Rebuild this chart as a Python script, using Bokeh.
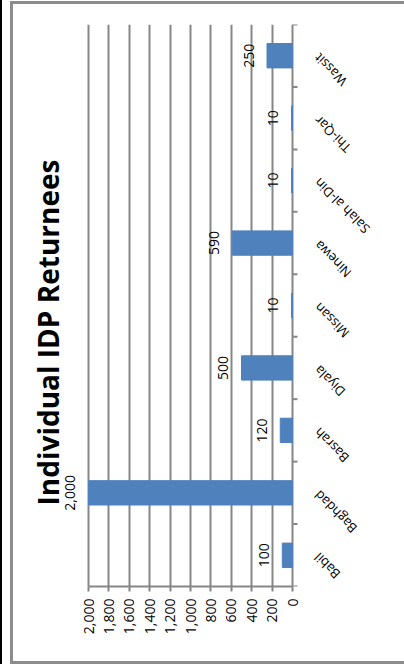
import math
from bokeh.plotting import figure
from bokeh.core.properties import value
from bokeh.models import (ColumnDataSource, LabelSet, Label, LinearAxis, Range1d,
                          FixedTicker, NumeralTickFormatter, Grid)
from bokeh.embed import file_html
from bokeh.resources import INLINE

categories = ["Babil", "Baghdad", "Basrah", "Diyala", "Missan", "Ninewa",
              "Salah al-Din", "Thi-Qar", "Wassit"]
returnees = [100, 2000, 120, 500, 10, 590, 10, 10, 250]
value_labels = ["{:,}".format(v) for v in returnees]
value_ticks = [0, 200, 400, 600, 800, 1000, 1200, 1400, 1600, 1800, 2000]
chart_title = "Individual IDP Returnees"

GRAY = "#868686"
BLUE = "#4F81BD"
FONT = "Open Sans"

# layout (pixels)
W, H = 404, 664
AXIS_LEFT_PX = 88      # where the 2,000 grid line sits
AXIS_RIGHT_PX = 292    # where the 0 line (category axis) sits
PLOT_TOP, PLOT_BOTTOM = 24, 78
LABEL_GAP_PX = 18      # bar end -> centre of its data label
CAT_LABEL_PX = 24      # axis -> end of category label
TITLE_X_PX = 47        # centre line of the rotated title
TITLE_Y_PX = 332       # centre of the rotated title

vmax = max(value_ticks)
ppu = (AXIS_RIGHT_PX - AXIS_LEFT_PX) / vmax
px = lambda n: n / ppu   # pixels -> value units

n = len(categories)
frame_h = H - PLOT_TOP - PLOT_BOTTOM
ppc = frame_h / n        # pixels per category slot
slots = [i + 0.5 for i in range(n)]
bounds = list(range(n + 1))
label_x = [v + px(LABEL_GAP_PX) for v in returnees]
src = ColumnDataSource(dict(cats=categories, pos=slots, vals=returnees,
                            labels=value_labels, lx=label_x))

p = figure(width=W, height=H, output_backend="svg", toolbar_location=None,
           x_range=Range1d(vmax + px(AXIS_LEFT_PX), -px(W - AXIS_RIGHT_PX)),
           y_range=Range1d(0, n),
           x_axis_location=None, y_axis_location=None,
           min_border=0, min_border_left=0, min_border_right=0,
           min_border_top=PLOT_TOP, min_border_bottom=PLOT_BOTTOM)
p.grid.visible = False
p.outline_line_color = None
p.background_fill_color = None
p.border_fill_color = None
# chart-area frame (gray box) and the black edge at far left
p.styles = {
    "background": (
        "linear-gradient(#8c8c8c,#8c8c8c) 10px 1px / 394px 3px no-repeat,"
        "linear-gradient(#8c8c8c,#8c8c8c) 10px 661px / 394px 3px no-repeat,"
        "linear-gradient(#8c8c8c,#8c8c8c) 10px 1px / 3px 663px no-repeat,"
        "linear-gradient(#000000,#000000) 0px 0px / 2px 664px no-repeat,"
        "#ffffff"
    )
}

grid = Grid(dimension=0, ticker=FixedTicker(ticks=value_ticks),
            grid_line_color=GRAY, grid_line_width=2)
p.add_layout(grid)

xaxis = LinearAxis(ticker=FixedTicker(ticks=value_ticks), bounds=(0, vmax),
                   formatter=NumeralTickFormatter(format="0,0"),
                   major_label_orientation=math.pi / 2,
                   axis_line_color=GRAY, axis_line_width=2,
                   major_tick_line_color=GRAY, major_tick_line_width=2,
                   major_tick_out=5, major_tick_in=0,
                   minor_tick_out=0, minor_tick_in=0,
                   major_label_text_font=FONT, major_label_text_font_size="14px",
                   major_label_text_color="black", major_label_standoff=7)
p.add_layout(xaxis, "below")

# category axis ticks (between categories), pointing outward (right)
p.segment(x0=0, x1=-px(5), y0=bounds, y1=bounds, line_color=GRAY, line_width=2)

p.hbar(y="pos", left=0, right="vals", height=0.39, color=BLUE, source=src)

data_labels = LabelSet(x="lx", y="pos", text="labels", source=src,
                       angle=math.pi / 2, text_align="center", text_baseline="middle",
                       text_font=value(FONT), text_font_size="14px",
                       text_color="black")
p.add_layout(data_labels)

cat_labels = LabelSet(x=-px(CAT_LABEL_PX), y="pos", text="cats", source=src,
                      angle=3 * math.pi / 4, text_align="right", text_baseline="middle",
                      text_font=value(FONT), text_font_size="13px",
                      text_color="black")
p.add_layout(cat_labels)

title = Label(x=vmax + px(AXIS_LEFT_PX - TITLE_X_PX),
              y=(H - PLOT_BOTTOM - TITLE_Y_PX) / ppc, text=chart_title,
              angle=math.pi / 2, text_align="center", text_baseline="middle",
              text_font=FONT, text_font_size="28px",
              text_font_style="bold", text_color="black")
p.add_layout(title)

open("out.html", "w").write(file_html(p, INLINE))
